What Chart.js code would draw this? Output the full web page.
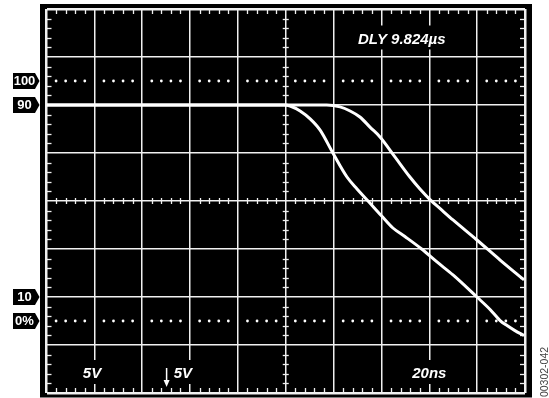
<!DOCTYPE html>
<html>
<head>
<meta charset="utf-8">
<script src="https://cdn.jsdelivr.net/npm/chart.js@4"></script>
<style>
  html, body { margin: 0; padding: 0; background: #fff; }
  #wrap { width: 549px; height: 398px; }
</style>
</head>
<body>
<div id="wrap"><canvas id="scope" width="549" height="398"></canvas></div>
<script>
// time axis: 20 ns/div, 10 divisions
const timeTicks = [0, 20, 40, 60, 80, 100, 120, 140, 160, 180, 200];
// level axis in % of the step, 20 %/div, 8 divisions
const levelTicks = [-30, -10, 10, 30, 50, 70, 90, 110, 130];

// faster trace (left falling edge)
const fastTimes = [0, 99.7, 101.8, 106.0, 110.2, 114.3, 119.7, 125.6, 129.8, 134.4, 140.1, 144.8, 149.8, 156.8, 163.2, 169.9, 179.9, 185.4, 189.6, 192.5, 195.8, 199.6];
const fastLevels = [90, 90, 89.6, 87.5, 84.2, 79.6, 70.0, 60.0, 55.0, 50.0, 43.75, 38.75, 35.2, 30.0, 24.6, 19.2, 10.0, 4.8, 0.2, -1.9, -4.0, -6.0];

// slower trace (right falling edge)
const slowTimes = [0, 117.1, 122.7, 126.9, 131.0, 135.2, 139.4, 145.7, 151.9, 156.1, 160.3, 164.9, 169.9, 179.9, 189.6, 199.6];
const slowLevels = [90, 90, 89.2, 87.5, 85.0, 80.8, 76.7, 68.3, 60.0, 55.0, 50.6, 46.5, 42.1, 33.75, 25.4, 17.1];

// reference markers on the left side
const markerLevels = [100, 90, 10, 0];
const markerLabels = ['100', '90', '10', '0%'];
const dottedLevels = [100, 0];

// scope readouts
const readouts = ['5V', '5V', '20ns'];
const delayText = 'DLY 9.824µs';
const figureId = '00302-042';

const toPoints = (xs, ys) => xs.map((t, i) => ({ x: t, y: ys[i] }));

const readFont = 'italic bold 15px "Liberation Sans", Arial, sans-serif';

function seg(ctx, x1, y1, x2, y2) {
  ctx.beginPath();
  ctx.moveTo(x1, y1);
  ctx.lineTo(x2, y2);
  ctx.stroke();
}

// text with a black box behind it, like the scope readouts
function readout(ctx, text, cx, base) {
  ctx.font = readFont;
  const w = ctx.measureText(text).width;
  ctx.fillStyle = '#000';
  ctx.fillRect(cx - w / 2 - 4, base - 18, w + 8, 24);
  ctx.fillStyle = '#fff';
  ctx.textAlign = 'center';
  ctx.textBaseline = 'alphabetic';
  ctx.fillText(text, cx, base);
}

const scopeDecor = {
  id: 'scopeDecor',
  beforeDraw(chart) {
    const { ctx, chartArea: a } = chart;
    ctx.save();
    ctx.fillStyle = '#000';
    ctx.fillRect(a.left - 6.5, a.top - 5, a.width + 13.5, a.height + 9.5);
    ctx.restore();
  },
  beforeDatasetsDraw(chart) {
    const { ctx, chartArea: a, scales: { x, y } } = chart;
    const cx = x.getPixelForValue(100);
    const cy = y.getPixelForValue(50);
    ctx.save();
    ctx.strokeStyle = '#f0f0f0';
    ctx.lineWidth = 1.3;
    // minor ticks along x, 5 per division
    for (let t = 4; t < 200; t += 4) {
      if (t % 20 === 0) continue;
      const px = Math.round(x.getPixelForValue(t)) + 0.5;
      seg(ctx, px, a.top, px, a.top + 5);
      seg(ctx, px, a.bottom - 5, px, a.bottom);
      seg(ctx, px, cy - 3, px, cy + 3);
    }
    // minor ticks along y
    for (let v = -26; v < 130; v += 4) {
      if ((v + 30) % 20 === 0) continue;
      const py = Math.round(y.getPixelForValue(v)) + 0.5;
      seg(ctx, a.left, py, a.left + 5, py);
      seg(ctx, a.right - 5, py, a.right, py);
      seg(ctx, cx - 3, py, cx + 3, py);
    }
    // dotted 0 % and 100 % lines
    ctx.fillStyle = '#fff';
    dottedLevels.forEach(lv => {
      const py = y.getPixelForValue(lv);
      for (let t = 4; t < 200; t += 4) {
        if (t % 20 === 0) continue;
        ctx.beginPath();
        ctx.arc(x.getPixelForValue(t), py, 1.4, 0, Math.PI * 2);
        ctx.fill();
      }
    });
    ctx.restore();
  },
  afterDraw(chart) {
    const { ctx, chartArea: a, scales: { x, y } } = chart;
    ctx.save();

    // readouts
    const bottomBase = a.bottom - 15;
    readout(ctx, readouts[0], x.getPixelForValue(19), bottomBase);
    readout(ctx, readouts[1], x.getPixelForValue(57), bottomBase);
    readout(ctx, readouts[2], x.getPixelForValue(160), bottomBase);
    readout(ctx, delayText, x.getPixelForValue(148.5), a.top + 34.5);

    // small down arrow next to the second 5V
    const ax = x.getPixelForValue(50.2);
    ctx.strokeStyle = '#fff';
    ctx.fillStyle = '#fff';
    ctx.lineWidth = 1.5;
    seg(ctx, ax, a.bottom - 25, ax, a.bottom - 12);
    ctx.beginPath();
    ctx.moveTo(ax - 3, a.bottom - 13);
    ctx.lineTo(ax + 3, a.bottom - 13);
    ctx.lineTo(ax, a.bottom - 6);
    ctx.closePath();
    ctx.fill();

    // level markers on the left
    ctx.font = 'bold 13px "Liberation Sans", Arial, sans-serif';
    ctx.textAlign = 'center';
    ctx.textBaseline = 'middle';
    markerLevels.forEach((lv, i) => {
      const py = y.getPixelForValue(lv);
      const l = a.left - 33.5, r = a.left - 11.5, tip = a.left - 7;
      ctx.fillStyle = '#000';
      ctx.beginPath();
      ctx.moveTo(l, py - 8);
      ctx.lineTo(r, py - 8);
      ctx.lineTo(tip, py);
      ctx.lineTo(r, py + 8);
      ctx.lineTo(l, py + 8);
      ctx.closePath();
      ctx.fill();
      ctx.fillStyle = '#fff';
      ctx.fillText(markerLabels[i], (l + r) / 2 + 0.5, py + 0.5);
    });

    // figure number, rotated
    ctx.translate(545, 372);
    ctx.rotate(-Math.PI / 2);
    ctx.font = '10.5px "Liberation Sans", Arial, sans-serif';
    ctx.fillStyle = '#444';
    ctx.fillText(figureId, 0, 0);
    ctx.restore();
  }
};

const edgeWidth = n => c => (c.index === 0 || c.index === n - 1) ? 2.5 : 1.5;

new Chart(document.getElementById('scope').getContext('2d'), {
  type: 'line',
  data: {
    datasets: [
      {
        label: 'fast',
        data: toPoints(fastTimes, fastLevels),
        borderColor: '#fff',
        borderWidth: 3,
        pointRadius: 0,
        cubicInterpolationMode: 'monotone',
        borderJoinStyle: 'round'
      },
      {
        label: 'slow',
        data: toPoints(slowTimes, slowLevels),
        borderColor: '#fff',
        borderWidth: 3,
        pointRadius: 0,
        cubicInterpolationMode: 'monotone',
        borderJoinStyle: 'round'
      }
    ]
  },
  options: {
    responsive: false,
    animation: false,
    devicePixelRatio: 1,
    layout: { padding: { left: 46.5, top: 9, right: 24, bottom: 5 } },
    plugins: { legend: { display: false }, tooltip: { enabled: false } },
    scales: {
      x: {
        type: 'linear',
        min: 0,
        max: 200,
        afterBuildTicks: s => { s.ticks = timeTicks.map(v => ({ value: v })); },
        ticks: { display: false },
        grid: { color: '#f0f0f0', lineWidth: edgeWidth(timeTicks.length), drawTicks: false },
        border: { display: false }
      },
      y: {
        type: 'linear',
        min: -30,
        max: 130,
        afterBuildTicks: s => { s.ticks = levelTicks.map(v => ({ value: v })); },
        ticks: { display: false },
        grid: { color: '#f0f0f0', lineWidth: edgeWidth(levelTicks.length), drawTicks: false },
        border: { display: false }
      }
    }
  },
  plugins: [scopeDecor]
});
</script>
</body>
</html>
